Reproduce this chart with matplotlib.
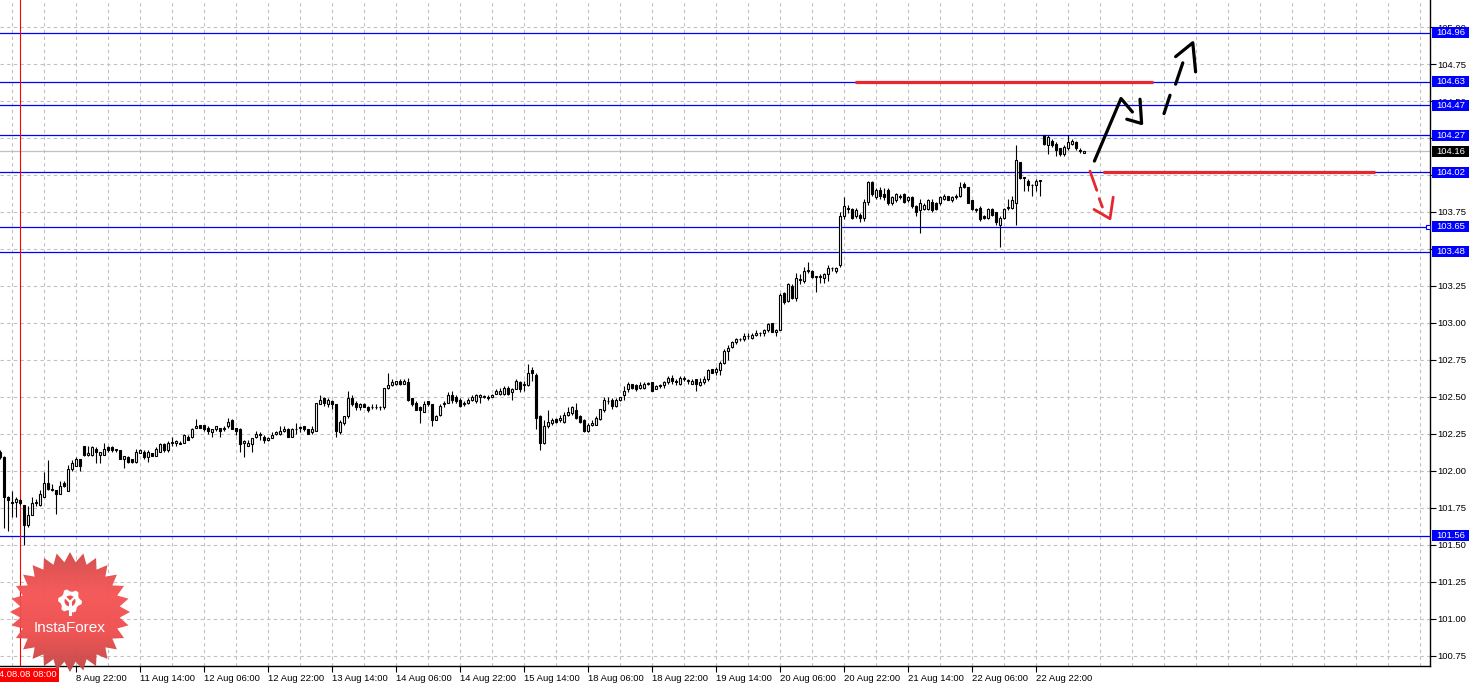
import matplotlib
matplotlib.use("Agg")
import matplotlib.pyplot as plt
import numpy as np
from matplotlib.patches import Polygon, Rectangle, Circle

plt.rcParams['font.family'] = ['Liberation Sans', 'DejaVu Sans']

# H1 bars, index 0 = 2014.08.08 08:00
first_bar = -5
opens = [
    102.13, 102.09, 101.82, 101.79, 101.79, 101.80, 101.77, 101.63, 101.70, 101.78,
    101.77, 101.82, 101.92, 101.88, 101.87, 101.84, 101.92, 101.86, 102.01, 102.03,
    102.08, 102.17, 102.11, 102.11, 102.15, 102.11, 102.11, 102.16, 102.16, 102.14,
    102.14, 102.08, 102.09, 102.08, 102.06, 102.12, 102.13, 102.09, 102.12, 102.10,
    102.13, 102.18, 102.14, 102.19, 102.19, 102.18, 102.19, 102.23, 102.23, 102.29,
    102.31, 102.31, 102.29, 102.26, 102.28, 102.29, 102.28, 102.30, 102.34, 102.29,
    102.28, 102.19, 102.17, 102.18, 102.23, 102.25, 102.23, 102.21, 102.22, 102.25,
    102.25, 102.27, 102.28, 102.23, 102.28, 102.29, 102.30, 102.28, 102.26, 102.27,
    102.45, 102.49, 102.45, 102.47, 102.45, 102.26, 102.32, 102.37, 102.49, 102.46,
    102.43, 102.45, 102.43, 102.43, 102.43, 102.43, 102.43, 102.56, 102.58, 102.59,
    102.61, 102.59, 102.60, 102.49, 102.46, 102.43, 102.40, 102.47, 102.45, 102.34,
    102.38, 102.45, 102.46, 102.51, 102.50, 102.48, 102.45, 102.46, 102.48, 102.47,
    102.50, 102.50, 102.50, 102.50, 102.52, 102.52, 102.52, 102.56, 102.53, 102.55,
    102.60, 102.58, 102.58, 102.68, 102.65, 102.37, 102.19, 102.30, 102.32, 102.35,
    102.34, 102.33, 102.38, 102.39, 102.41, 102.37, 102.34, 102.27, 102.31, 102.31,
    102.35, 102.41, 102.47, 102.48, 102.44, 102.48, 102.51, 102.55, 102.59, 102.58,
    102.56, 102.56, 102.59, 102.60, 102.55, 102.58, 102.58, 102.60, 102.63, 102.61,
    102.59, 102.63, 102.61, 102.59, 102.62, 102.58, 102.60, 102.62, 102.69, 102.67,
    102.68, 102.73, 102.81, 102.84, 102.87, 102.89, 102.89, 102.91, 102.90, 102.92,
    102.93, 102.93, 102.95, 103.00, 102.94, 102.95, 103.20, 103.15, 103.25, 103.17,
    103.29, 103.28, 103.35, 103.35, 103.31, 103.31, 103.30, 103.33, 103.37, 103.35,
    103.39, 103.72, 103.78, 103.77, 103.72, 103.73, 103.71, 103.82, 103.95, 103.85,
    103.90, 103.87, 103.90, 103.81, 103.83, 103.86, 103.87, 103.83, 103.85, 103.79,
    103.76, 103.77, 103.77, 103.82, 103.81, 103.81, 103.84, 103.86, 103.83, 103.86,
    103.86, 103.94, 103.92, 103.83, 103.77, 103.78, 103.72, 103.71, 103.77, 103.75,
    103.66, 103.71, 103.78, 103.78, 103.81, 104.09, 103.98, 103.96, 103.93, 103.93,
    103.96, 104.27, 104.20, 104.23, 104.21, 104.18, 104.14, 104.18, 104.21, 104.22,
    104.17, 104.15,
]
highs = [
    102.14, 102.10, 101.83, 101.86, 101.82, 101.81, 101.77, 101.76, 101.82, 101.81,
    101.87, 101.99, 102.07, 101.91, 101.87, 101.93, 101.93, 102.04, 102.07, 102.09,
    102.08, 102.17, 102.17, 102.17, 102.16, 102.13, 102.19, 102.17, 102.17, 102.15,
    102.14, 102.10, 102.10, 102.08, 102.15, 102.15, 102.14, 102.14, 102.12, 102.16,
    102.19, 102.19, 102.20, 102.23, 102.21, 102.20, 102.25, 102.24, 102.29, 102.35,
    102.31, 102.31, 102.30, 102.28, 102.30, 102.29, 102.30, 102.36, 102.35, 102.29,
    102.29, 102.21, 102.21, 102.22, 102.27, 102.26, 102.24, 102.23, 102.26, 102.27,
    102.30, 102.30, 102.29, 102.29, 102.32, 102.30, 102.30, 102.28, 102.30, 102.46,
    102.51, 102.50, 102.49, 102.48, 102.45, 102.34, 102.37, 102.54, 102.51, 102.47,
    102.46, 102.46, 102.44, 102.45, 102.45, 102.44, 102.56, 102.66, 102.62, 102.61,
    102.62, 102.62, 102.63, 102.49, 102.47, 102.44, 102.47, 102.47, 102.45, 102.38,
    102.45, 102.47, 102.53, 102.54, 102.51, 102.49, 102.47, 102.49, 102.51, 102.52,
    102.52, 102.51, 102.51, 102.52, 102.55, 102.56, 102.57, 102.57, 102.56, 102.62,
    102.61, 102.61, 102.72, 102.70, 102.66, 102.38, 102.34, 102.41, 102.36, 102.36,
    102.38, 102.40, 102.43, 102.44, 102.46, 102.38, 102.35, 102.32, 102.34, 102.37,
    102.42, 102.50, 102.50, 102.49, 102.49, 102.50, 102.57, 102.60, 102.59, 102.59,
    102.60, 102.60, 102.60, 102.60, 102.58, 102.59, 102.61, 102.64, 102.65, 102.62,
    102.64, 102.64, 102.62, 102.62, 102.62, 102.63, 102.64, 102.69, 102.69, 102.70,
    102.74, 102.82, 102.85, 102.88, 102.90, 102.90, 102.93, 102.93, 102.93, 102.95,
    102.94, 102.96, 103.00, 103.00, 102.96, 103.20, 103.21, 103.27, 103.26, 103.34,
    103.33, 103.38, 103.41, 103.36, 103.32, 103.33, 103.34, 103.39, 103.38, 103.38,
    103.75, 103.85, 103.80, 103.78, 103.78, 103.74, 103.84, 103.96, 103.96, 103.91,
    103.92, 103.91, 103.91, 103.86, 103.88, 103.87, 103.88, 103.86, 103.86, 103.80,
    103.84, 103.81, 103.84, 103.84, 103.82, 103.86, 103.87, 103.86, 103.86, 103.87,
    103.95, 103.95, 103.92, 103.83, 103.78, 103.79, 103.73, 103.78, 103.78, 103.75,
    103.72, 103.78, 103.84, 103.86, 104.20, 104.09, 103.98, 103.97, 103.94, 103.97,
    103.96, 104.27, 104.27, 104.24, 104.22, 104.18, 104.20, 104.27, 104.24, 104.23,
    104.18, 104.16,
]
lows = [
    102.08, 101.61, 101.59, 101.69, 101.69, 101.77, 101.50, 101.62, 101.70, 101.76,
    101.76, 101.82, 101.87, 101.86, 101.71, 101.84, 101.89, 101.86, 102.00, 102.03,
    102.00, 102.10, 102.10, 102.10, 102.05, 102.05, 102.11, 102.13, 102.13, 102.13,
    102.08, 102.02, 102.05, 102.05, 102.05, 102.12, 102.08, 102.06, 102.10, 102.10,
    102.13, 102.13, 102.13, 102.17, 102.17, 102.18, 102.19, 102.21, 102.22, 102.29,
    102.29, 102.27, 102.25, 102.23, 102.27, 102.23, 102.27, 102.29, 102.28, 102.24,
    102.13, 102.09, 102.17, 102.13, 102.22, 102.21, 102.19, 102.20, 102.22, 102.24,
    102.24, 102.26, 102.23, 102.23, 102.25, 102.26, 102.27, 102.25, 102.25, 102.27,
    102.45, 102.44, 102.43, 102.42, 102.23, 102.25, 102.31, 102.36, 102.44, 102.41,
    102.41, 102.43, 102.40, 102.42, 102.42, 102.41, 102.42, 102.55, 102.57, 102.58,
    102.58, 102.59, 102.47, 102.44, 102.41, 102.32, 102.40, 102.44, 102.30, 102.34,
    102.37, 102.43, 102.46, 102.46, 102.46, 102.43, 102.44, 102.45, 102.47, 102.46,
    102.46, 102.49, 102.48, 102.50, 102.52, 102.51, 102.51, 102.51, 102.48, 102.55,
    102.53, 102.54, 102.57, 102.61, 102.28, 102.14, 102.18, 102.29, 102.31, 102.32,
    102.33, 102.32, 102.37, 102.38, 102.35, 102.32, 102.26, 102.26, 102.30, 102.31,
    102.34, 102.40, 102.45, 102.42, 102.43, 102.47, 102.48, 102.53, 102.55, 102.54,
    102.55, 102.55, 102.58, 102.54, 102.55, 102.56, 102.56, 102.59, 102.59, 102.58,
    102.58, 102.61, 102.59, 102.59, 102.54, 102.57, 102.59, 102.61, 102.66, 102.65,
    102.65, 102.72, 102.75, 102.83, 102.86, 102.88, 102.88, 102.89, 102.89, 102.91,
    102.91, 102.91, 102.94, 102.94, 102.91, 102.95, 103.13, 103.14, 103.16, 103.15,
    103.26, 103.27, 103.34, 103.30, 103.21, 103.27, 103.27, 103.28, 103.35, 103.34,
    103.38, 103.70, 103.74, 103.70, 103.71, 103.68, 103.69, 103.80, 103.86, 103.84,
    103.84, 103.83, 103.80, 103.80, 103.82, 103.84, 103.81, 103.82, 103.78, 103.72,
    103.61, 103.76, 103.76, 103.75, 103.76, 103.80, 103.83, 103.83, 103.82, 103.84,
    103.85, 103.91, 103.81, 103.76, 103.75, 103.69, 103.70, 103.70, 103.72, 103.66,
    103.51, 103.70, 103.76, 103.77, 103.66, 103.97, 103.89, 103.89, 103.86, 103.89,
    103.86, 104.20, 104.14, 104.19, 104.13, 104.13, 104.13, 104.17, 104.20, 104.17,
    104.15, 104.15,
]
closes = [
    102.09, 101.82, 101.80, 101.78, 101.81, 101.78, 101.63, 101.70, 101.78, 101.79,
    101.84, 101.92, 101.88, 101.87, 101.84, 101.90, 101.90, 102.01, 102.05, 102.08,
    102.03, 102.11, 102.12, 102.16, 102.13, 102.13, 102.15, 102.14, 102.14, 102.14,
    102.08, 102.10, 102.06, 102.06, 102.13, 102.14, 102.09, 102.13, 102.10, 102.15,
    102.18, 102.14, 102.19, 102.19, 102.20, 102.19, 102.24, 102.21, 102.28, 102.30,
    102.29, 102.28, 102.27, 102.28, 102.30, 102.27, 102.29, 102.33, 102.28, 102.27,
    102.18, 102.20, 102.19, 102.22, 102.25, 102.24, 102.21, 102.22, 102.24, 102.26,
    102.27, 102.28, 102.23, 102.28, 102.28, 102.29, 102.28, 102.25, 102.28, 102.46,
    102.48, 102.46, 102.48, 102.45, 102.27, 102.33, 102.37, 102.49, 102.45, 102.43,
    102.45, 102.43, 102.41, 102.43, 102.43, 102.43, 102.56, 102.58, 102.60, 102.61,
    102.59, 102.61, 102.48, 102.45, 102.41, 102.41, 102.45, 102.45, 102.34, 102.37,
    102.44, 102.46, 102.51, 102.48, 102.47, 102.44, 102.46, 102.48, 102.50, 102.51,
    102.51, 102.50, 102.49, 102.51, 102.54, 102.54, 102.56, 102.52, 102.55, 102.61,
    102.55, 102.58, 102.66, 102.66, 102.36, 102.19, 102.30, 102.33, 102.34, 102.33,
    102.36, 102.38, 102.40, 102.43, 102.36, 102.33, 102.27, 102.31, 102.32, 102.36,
    102.42, 102.48, 102.47, 102.44, 102.48, 102.50, 102.54, 102.59, 102.56, 102.55,
    102.58, 102.59, 102.59, 102.54, 102.57, 102.57, 102.60, 102.63, 102.61, 102.60,
    102.63, 102.62, 102.61, 102.61, 102.59, 102.60, 102.62, 102.68, 102.66, 102.69,
    102.73, 102.81, 102.83, 102.87, 102.89, 102.89, 102.91, 102.91, 102.92, 102.93,
    102.93, 102.95, 102.99, 102.94, 102.95, 103.19, 103.14, 103.26, 103.17, 103.30,
    103.29, 103.35, 103.36, 103.31, 103.31, 103.31, 103.33, 103.37, 103.37, 103.37,
    103.72, 103.79, 103.77, 103.71, 103.76, 103.71, 103.82, 103.95, 103.87, 103.90,
    103.86, 103.85, 103.81, 103.85, 103.87, 103.85, 103.82, 103.85, 103.79, 103.75,
    103.81, 103.80, 103.83, 103.76, 103.77, 103.85, 103.86, 103.83, 103.85, 103.85,
    103.92, 103.92, 103.81, 103.77, 103.76, 103.70, 103.71, 103.77, 103.73, 103.68,
    103.71, 103.77, 103.78, 103.83, 104.10, 103.98, 103.98, 103.93, 103.93, 103.96,
    103.96, 104.21, 104.26, 104.20, 104.17, 104.14, 104.19, 104.22, 104.23, 104.18,
    104.16, 104.16,
]

levels = [104.96, 104.63, 104.47, 104.27, 104.02, 103.65, 103.48, 101.56]
last_price = 104.16
price_ticks = [100.75, 101.00, 101.25, 101.50, 101.75, 102.00, 102.25, 102.50,
               102.75, 103.00, 103.25, 103.50, 103.75, 104.00, 104.25, 104.50,
               104.75, 105.00]
date_labels = ["8 Aug 22:00", "11 Aug 14:00", "12 Aug 06:00", "12 Aug 22:00",
               "13 Aug 14:00", "14 Aug 06:00", "14 Aug 22:00", "15 Aug 14:00",
               "18 Aug 06:00", "18 Aug 22:00", "19 Aug 14:00", "20 Aug 06:00",
               "20 Aug 22:00", "21 Aug 14:00", "22 Aug 06:00", "22 Aug 22:00"]
date_label_bars = [14, 30, 46, 62, 78, 94, 110, 126, 142, 158, 174, 190, 206, 222, 238, 254]
cursor_label = "2014.08.08 08:00"

BLUE = '#0000ff'
RED = '#e8262d'
W, H = 1470, 685

fig = plt.figure(figsize=(W / 100, H / 100), dpi=100)
ax = fig.add_axes([0, 1 - 666 / H, 1430 / W, 666 / H])
ax.set_xlim(-5, 352.5)
ax.set_ylim(100.68, 105.183)

# grid
ax.set_yticks(price_ticks)
ax.set_xticks(date_label_bars)
ax.set_xticks(np.arange(-2, 353, 8), minor=True)
ax.grid(which='both', color='#c0c0c0', linestyle=(0, (3, 3)), lw=0.8)
ax.set_axisbelow(True)

for s in ['top', 'left']:
    ax.spines[s].set_visible(False)
for s in ['right', 'bottom']:
    ax.spines[s].set_linewidth(1.0)

ax.yaxis.tick_right()
ax.yaxis.set_major_formatter(matplotlib.ticker.FormatStrFormatter('%.2f'))
ax.tick_params(axis='y', direction='out', length=4, width=0.8, pad=1, labelsize=6.8)
ax.tick_params(axis='x', which='major', direction='out', length=4, width=0.8, pad=2,
               labelsize=6.8)
ax.tick_params(axis='x', which='minor', length=0)
ax.set_xticklabels(date_labels)
for lbl in ax.get_xticklabels():
    lbl.set_ha('left')

# candles
idx = np.arange(first_bar, first_bar + len(closes))
o = np.array(opens)
c = np.array(closes)
up = c >= o
body_lo = np.minimum(o, c)
body_h = np.maximum(np.abs(c - o), 0.004)
ax.vlines(idx, lows, highs, color='black', lw=0.8, zorder=3)
ax.bar(idx[up], body_h[up], bottom=body_lo[up], width=0.5, color='white',
       edgecolor='black', lw=0.8, zorder=4)
ax.bar(idx[~up], body_h[~up], bottom=body_lo[~up], width=0.5, color='black',
       edgecolor='black', lw=0.8, zorder=4)

# levels
ytr = ax.get_yaxis_transform()
for lv in levels:
    ax.axhline(lv, color=BLUE, lw=0.9, zorder=2)
ax.axhline(last_price, color='#c0c0c0', lw=0.9, zorder=1.8)
box_h = 11 / 147.9
for lv, fc in [(v, BLUE) for v in levels] + [(last_price, 'black')]:
    ax.add_patch(Rectangle((1.0012, lv - box_h / 2), 37 / 1430, box_h, transform=ytr,
                           facecolor=fc, edgecolor='none', clip_on=False, zorder=10))
    ax.text(1.0045, lv, f'{lv:.2f}', transform=ytr, color='white', fontsize=6.8,
            ha='left', va='center', clip_on=False, zorder=11)
ax.plot([352], [levels[5]], marker='s', ms=3.5, mfc='white', mec=BLUE, mew=0.8,
        clip_on=False, zorder=6)

# cursor line and date label
ax.axvline(0, color='red', lw=0.8, zorder=2)
xtr = ax.get_xaxis_transform()
ax.text(0, -0.0135, cursor_label, transform=xtr, color='white', fontsize=6.8,
        ha='center', va='center', clip_on=False, zorder=12,
        bbox=dict(boxstyle='square,pad=0.25', fc='red', ec='none'))

# drawn resistance/support and arrows
ax.hlines(levels[1], 208.75, 283.25, color=RED, lw=2.3, zorder=7)
ax.hlines(levels[4], 270.75, 338.75, color=RED, lw=2.3, zorder=7)

black_strokes = [
    [(268.6, 104.094), (275.25, 104.517), (278.1, 104.426)],
    [(276.7, 104.377), (280.4, 104.348), (280.0, 104.512)],
    [(286.0, 104.415), (287.5, 104.539)],
    [(288.9, 104.614), (290.7, 104.758)],
    [(288.9, 104.800), (293.2, 104.894), (293.9, 104.697)],
]
red_strokes = [
    [(267.5, 104.026), (269.2, 103.896)],
    [(269.8, 103.840), (270.6, 103.783)],
    [(268.5, 103.767), (272.5, 103.704), (273.3, 103.850)],
]
for st in black_strokes:
    xs, ys = zip(*st)
    ax.plot(xs, ys, color='black', lw=2.3, solid_capstyle='round', zorder=8)
for st in red_strokes:
    xs, ys = zip(*st)
    ax.plot(xs, ys, color=RED, lw=2.0, solid_capstyle='round', zorder=8)

# InstaForex badge (overlay in pixel coords)
ov = fig.add_axes([0, 0, 1, 1], zorder=20)
ov.set_xlim(0, W)
ov.set_ylim(H, 0)
ov.axis('off')
ov.patch.set_alpha(0)
cx, cy, r_out, r_in, n = 70, 612, 60, 50, 28
ang = np.linspace(0, 2 * np.pi, 2 * n, endpoint=False) - np.pi / 2
rad = np.where(np.arange(2 * n) % 2 == 0, r_out, r_in)
star = Polygon(np.c_[cx + rad * np.cos(ang), cy + rad * np.sin(ang)], closed=True,
               facecolor='none', edgecolor='none')
ov.add_patch(star)
grad = np.linspace(0, 1, 100)[:, None]
cmap = matplotlib.colors.LinearSegmentedColormap.from_list(
    'badge', ['#d44848', '#f55252', '#f04c4c', '#c04444'])
im = ov.imshow(grad, cmap=cmap, extent=[cx - r_out, cx + r_out, cy + r_out, cy - r_out],
               aspect='auto', zorder=1, alpha=0.95)
im.set_clip_path(star)
# gear icon
gc_x, gc_y = 70, 601
g_ang = np.linspace(0, 2 * np.pi, 24, endpoint=False)
g_rad = np.where((np.arange(24) // 2) % 2 == 0, 12, 9.5)
ov.add_patch(Polygon(np.c_[gc_x + g_rad * np.cos(g_ang), gc_y + g_rad * np.sin(g_ang)],
                     closed=True, facecolor='white', edgecolor='none', zorder=2))
ov.add_patch(Circle((gc_x, gc_y), 5.5, facecolor='#ef4d4d', edgecolor='none', zorder=3))
ov.plot([gc_x - 4, gc_x, gc_x + 4], [gc_y - 3, gc_y + 1, gc_y - 3], color='white',
        lw=1.6, zorder=4)
ov.plot([gc_x, gc_x], [gc_y + 1, gc_y + 13], color='white', lw=2.2, zorder=4)
ov.text(cx, 628, 'InstaForex', color='white', fontsize=11, ha='center', va='center',
        zorder=5)

fig.savefig('out.png', dpi=100)
